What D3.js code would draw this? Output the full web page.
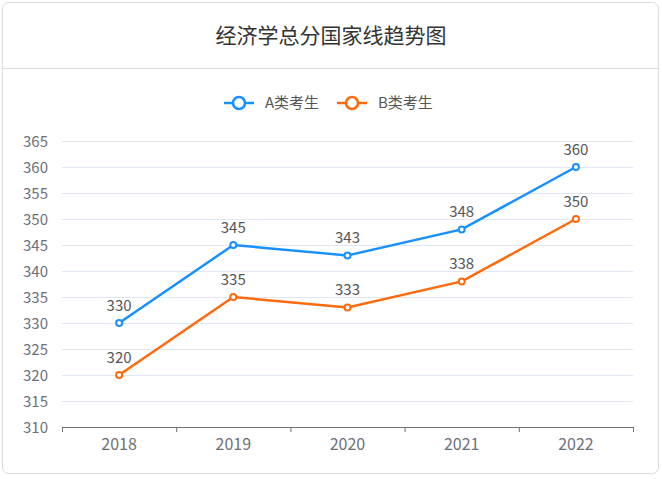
<!DOCTYPE html>
<html>
<head>
<meta charset="utf-8">
<script src="https://cdn.jsdelivr.net/npm/d3@7"></script>
<style>
  body { margin: 0; background: #fff; font-family: "Microsoft YaHei", "Noto Sans CJK SC", sans-serif; }
  svg { display: block; }
</style>
</head>
<body>
<svg id="chart" width="662" height="479"></svg>
<script>
// data
const title = "经济学总分国家线趋势图";
const years = ["2018", "2019", "2020", "2021", "2022"];
const seriesNames = ["A类考生", "B类考生"];
const seriesA = [330, 345, 343, 348, 360];
const seriesB = [320, 335, 333, 338, 350];
const yTickValues = [310, 315, 320, 325, 330, 335, 340, 345, 350, 355, 360, 365];
const colors = ["#1890ff", "#ff6a0d"];

const fontStack = "\"Microsoft YaHei\", \"Noto Sans CJK SC\", sans-serif";
const margin = { top: 141, right: 29, bottom: 52, left: 62 };
const width = 662;
const height = 479;
const innerWidth = width - margin.left - margin.right;
const innerHeight = height - margin.top - margin.bottom;

const svg = d3.select("#chart");

// card frame
svg.append("rect")
    .attr("x", 2.5).attr("y", 2.5).attr("width", 656).attr("height", 471)
    .attr("rx", 6)
    .attr("fill", "#fff").attr("stroke", "#dcdcdc");

// header
svg.append("text")
    .attr("x", 331).attr("y", 43)
    .attr("text-anchor", "middle")
    .attr("font-size", 21)
    .attr("fill", "#333")
    .text(title);
svg.append("line")
    .attr("x1", 3).attr("x2", 658).attr("y1", 68.5).attr("y2", 68.5)
    .attr("stroke", "#dcdcdc");

// legend
const legendX = [224, 337];
seriesNames.forEach((name, i) => {
    const lg = svg.append("g").attr("transform", `translate(${legendX[i]},103)`);
    lg.append("line").attr("x1", 0).attr("x2", 30).attr("y1", 0).attr("y2", 0)
        .attr("stroke", colors[i]).attr("stroke-width", 2.5);
    lg.append("circle").attr("cx", 15).attr("cy", 0).attr("r", 6)
        .attr("fill", "#fff").attr("stroke", colors[i]).attr("stroke-width", 2.5);
    lg.append("text").attr("x", 41).attr("y", 5)
        .attr("font-size", 15).attr("fill", "#555").text(name);
});

const g = svg.append("g").attr("transform", `translate(${margin.left},${margin.top})`);

const xScale = d3.scaleBand().domain(years).range([0, innerWidth]);
const yScale = d3.scaleLinear().domain([310, 365]).range([innerHeight, 0]);

// y axis with grid
const yAxis = d3.axisLeft(yScale).tickValues(yTickValues).tickSize(-innerWidth).tickPadding(14);
const yAxisG = g.append("g").call(yAxis);
yAxisG.select(".domain").remove();
yAxisG.selectAll("line").attr("stroke", "#e0e6f1");
yAxisG.selectAll("text")
    .attr("fill", "#6e7079").attr("dy", null).attr("y", 5)
    .attr("text-anchor", "end")
    .style("font-size", "15px").style("font-family", fontStack);
yAxisG.selectAll(".tick").filter(d => d === 310).select("line").remove();

// x axis
const xAxis = d3.axisBottom(xScale).tickSize(0).tickPadding(11);
const xAxisG = g.append("g").attr("transform", `translate(0,${innerHeight})`).call(xAxis);
xAxisG.select(".domain").attr("stroke", "#6e7079");
xAxisG.selectAll("text")
    .attr("fill", "#6e7079").attr("dy", null).attr("y", 23)
    .attr("text-anchor", "middle")
    .style("font-size", "16px").style("font-family", fontStack);
// boundary ticks between categories
const boundaries = years.map(d => xScale(d)).concat([innerWidth]);
xAxisG.selectAll(".bound").data(boundaries).enter().append("line")
    .attr("class", "bound")
    .attr("x1", d => d + 0.5).attr("x2", d => d + 0.5)
    .attr("y1", 0).attr("y2", 5)
    .attr("stroke", "#6e7079");

// lines
const cx = d => xScale(d) + xScale.bandwidth() / 2;
[seriesA, seriesB].forEach((values, i) => {
    const pts = years.map((y, j) => ({ year: y, value: values[j] }));
    const line = d3.line().x(d => cx(d.year)).y(d => yScale(d.value));
    g.append("path")
        .attr("d", line(pts))
        .attr("fill", "none")
        .attr("stroke", colors[i])
        .attr("stroke-width", 2.5);
    g.selectAll(".pt" + i).data(pts).enter().append("circle")
        .attr("cx", d => cx(d.year)).attr("cy", d => yScale(d.value))
        .attr("r", 3)
        .attr("fill", "#fff").attr("stroke", colors[i]).attr("stroke-width", 2);
    g.selectAll(".lbl" + i).data(pts).enter().append("text")
        .attr("x", d => cx(d.year)).attr("y", d => yScale(d.value) - 12)
        .attr("text-anchor", "middle")
        .attr("font-size", 15)
        .attr("fill", "#555")
        .text(d => d.value);
});
</script>
</body>
</html>
